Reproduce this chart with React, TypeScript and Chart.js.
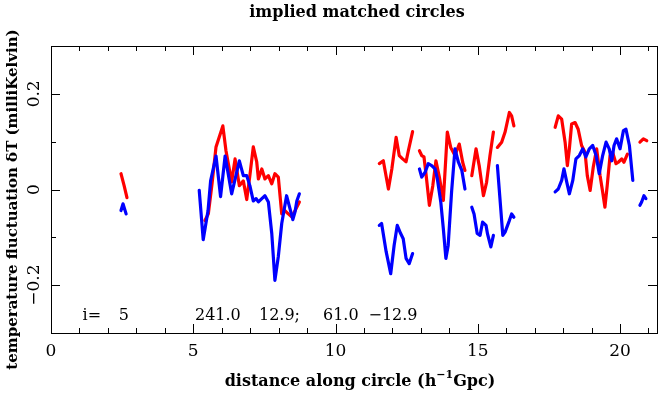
import React, { useEffect, useRef } from "react";
import { Chart, registerables } from "chart.js";

Chart.register(...registerables);

// ---- text ----
const chartTitle = "implied matched circles";
const xTitleParts = ["distance along circle (h", "\u22121", "Gpc)"];
const yTitle = "temperature fluctuation \u03b4T (milliKelvin)";
const xTickValues = [0, 5, 10, 15, 20];
const yTickValues = [-0.2, 0, 0.2];
const xMinorStep = 1;
const yMinorStep = 0.1;
const annotationTexts = ["i=", "5", "241.0", "12.9;", "61.0", "\u221212.9"];
const annotationX = [1.11, 2.38, 5.06, 7.31, 9.56, 11.16];
const annotationY = -0.265;

// ---- data: [distance, dT] ----
const redA = [[2.46, 0.033], [2.57, 0.008], [2.67, -0.017]];
const blueA = [[2.46, -0.044], [2.53, -0.030], [2.64, -0.051]];

const redB = [
  [5.41, -0.065], [5.53, -0.051], [5.66, 0.012], [5.8, 0.089], [6.04, 0.133],
  [6.15, 0.081], [6.35, 0.016], [6.47, 0.064], [6.62, 0.008], [6.76, 0.018],
  [6.88, -0.021], [6.99, 0.029], [7.11, 0.089], [7.23, 0.058], [7.29, 0.022],
  [7.41, 0.043], [7.52, 0.022], [7.64, 0.029], [7.76, 0.012], [7.87, 0.033],
  [7.99, 0.026], [8.11, -0.051], [8.22, -0.044], [8.34, -0.051], [8.46, -0.057],
  [8.58, -0.044], [8.73, -0.026],
];
const blueB = [
  [5.21, -0.002], [5.35, -0.105], [5.52, -0.044], [5.61, 0.018], [5.8, 0.07],
  [5.96, -0.015], [6.12, 0.07], [6.35, -0.009], [6.62, 0.06], [6.76, 0.029],
  [6.88, 0.029], [6.99, 0.008], [7.11, -0.024], [7.21, -0.019], [7.29, -0.026],
  [7.41, -0.019], [7.52, -0.013], [7.64, -0.026], [7.76, -0.092], [7.87, -0.19],
  [7.99, -0.14], [8.11, -0.071], [8.28, -0.013], [8.4, -0.04], [8.5, -0.063],
  [8.58, -0.046], [8.64, -0.024], [8.73, -0.009],
];

const redC = [
  [11.54, 0.054], [11.68, 0.06], [11.86, 0.001], [11.98, 0.043], [12.13, 0.109],
  [12.24, 0.071], [12.36, 0.064], [12.48, 0.058], [12.56, 0.081], [12.71, 0.121],
];
const blueC = [
  [11.54, -0.075], [11.62, -0.071], [11.78, -0.13], [11.94, -0.176], [12.06, -0.117],
  [12.17, -0.075], [12.29, -0.092], [12.38, -0.103], [12.48, -0.144], [12.59, -0.155],
  [12.71, -0.134],
];

const redD = [
  [12.95, 0.081], [13.03, 0.071], [13.11, 0.068], [13.18, 0.033], [13.3, -0.033],
  [13.42, 0.008], [13.53, 0.06], [13.65, 0.026], [13.79, -0.023], [13.93, 0.12],
  [14.05, 0.088], [14.2, 0.071], [14.35, 0.095], [14.47, 0.057], [14.55, 0.04],
];
const blueD = [
  [12.95, 0.043], [13.03, 0.026], [13.15, 0.036], [13.26, 0.054], [13.38, 0.05],
  [13.5, 0.043], [13.58, 0.022], [13.7, -0.026], [13.79, -0.082], [13.88, -0.144],
  [13.96, -0.117], [14.08, -0.005], [14.2, 0.085], [14.32, 0.057], [14.44, 0.04],
  [14.55, 0.001],
];

const redE1 = [
  [14.79, 0.029], [14.94, 0.085], [15.05, 0.05], [15.2, -0.013], [15.31, 0.015],
  [15.43, 0.071], [15.55, 0.12],
];
const blueE1 = [
  [14.79, -0.037], [14.87, -0.051], [14.98, -0.092], [15.08, -0.096], [15.17, -0.068],
  [15.29, -0.075], [15.34, -0.092], [15.46, -0.12], [15.55, -0.096],
];
const redE2 = [
  [15.69, 0.088], [15.84, 0.099], [15.96, 0.12], [16.11, 0.161], [16.19, 0.154],
  [16.27, 0.133],
];
const blueE2 = [
  [15.69, 0.05], [15.78, -0.019], [15.88, -0.096], [15.96, -0.089], [16.11, -0.065],
  [16.19, -0.051], [16.27, -0.058],
];

const redF1 = [
  [17.72, 0.13], [17.83, 0.154], [17.95, 0.147], [18.07, 0.099], [18.15, 0.05],
  [18.22, 0.085], [18.3, 0.137], [18.42, 0.14], [18.53, 0.126], [18.65, 0.092],
  [18.77, 0.078], [18.85, 0.029], [18.95, -0.002], [19.06, 0.047], [19.18, 0.085],
  [19.3, 0.029], [19.39, -0.005], [19.47, -0.037], [19.55, 0.008], [19.65, 0.071],
  [19.74, 0.078], [19.86, 0.054], [19.94, 0.057], [20.06, 0.064], [20.14, 0.057],
  [20.26, 0.074],
];
const blueF1 = [
  [17.72, -0.005], [17.83, 0.001], [17.95, 0.019], [18.03, 0.043], [18.13, 0.015],
  [18.22, -0.009], [18.34, 0.019], [18.45, 0.064], [18.57, 0.071], [18.69, 0.085],
  [18.8, 0.068], [18.92, 0.085], [19.04, 0.092], [19.16, 0.071], [19.27, 0.033],
  [19.39, 0.071], [19.51, 0.099], [19.62, 0.085], [19.71, 0.06], [19.79, 0.092],
  [19.88, 0.106], [20.0, 0.085], [20.12, 0.123], [20.21, 0.126], [20.33, 0.092],
  [20.45, 0.019],
];
const redF2 = [[20.7, 0.099], [20.82, 0.106], [20.94, 0.102]];
const blueF2 = [[20.7, -0.033], [20.76, -0.026], [20.84, -0.013], [20.91, -0.019]];

const redSegments = [redA, redB, redC, redD, redE1, redE2, redF1, redF2];
const blueSegments = [blueA, blueB, blueC, blueD, blueE1, blueE2, blueF1, blueF2];

function joinSegments(segs: number[][][]) {
  const out: { x: number; y: number | null }[] = [];
  segs.forEach((seg, i) => {
    if (i > 0) out.push({ x: seg[0][0], y: null });
    seg.forEach((p) => out.push({ x: p[0], y: p[1] }));
  });
  return out;
}

const SERIF = "'DejaVu Serif', 'Liberation Serif', serif";

function fmtY(v: number) {
  if (Math.abs(v) < 1e-9) return "0";
  const s = Math.abs(v).toFixed(1);
  return v < 0 ? "\u2212" + s : s;
}

const framePlugin = {
  id: "framePlugin",
  afterDraw(chart: any) {
    const ctx: CanvasRenderingContext2D = chart.ctx;
    const a = chart.chartArea;
    const xs = chart.scales.x;
    const ys = chart.scales.y;
    ctx.save();
    ctx.strokeStyle = "#000";
    ctx.fillStyle = "#000";
    ctx.lineWidth = 1;
    ctx.strokeRect(Math.round(a.left) + 0.5, Math.round(a.top) + 0.5, Math.round(a.right - a.left), Math.round(a.bottom - a.top));

    const major = 9;
    const minor = 5;
    ctx.beginPath();
    for (let v = xs.min; v <= xs.max + 1e-9; v += xMinorStep) {
      const vv = Math.round(v);
      const px = Math.round(xs.getPixelForValue(vv)) + 0.5;
      const len = vv % 5 === 0 ? major : minor;
      ctx.moveTo(px, a.bottom);
      ctx.lineTo(px, a.bottom - len);
      ctx.moveTo(px, a.top);
      ctx.lineTo(px, a.top + len);
    }
    for (let k = -3; k <= 3; k++) {
      const v = k * yMinorStep;
      const py = Math.round(ys.getPixelForValue(v)) + 0.5;
      const len = k % 2 === 0 ? major : minor;
      ctx.moveTo(a.left, py);
      ctx.lineTo(a.left + len, py);
      ctx.moveTo(a.right, py);
      ctx.lineTo(a.right - len, py);
    }
    ctx.stroke();

    ctx.font = `17px ${SERIF}`;
    ctx.textAlign = "center";
    ctx.textBaseline = "middle";
    xTickValues.forEach((v) => {
      ctx.fillText(String(v), xs.getPixelForValue(v), a.bottom + 19);
    });
    yTickValues.forEach((v) => {
      ctx.save();
      ctx.translate(a.left - 16, ys.getPixelForValue(v));
      ctx.rotate(-Math.PI / 2);
      ctx.fillText(fmtY(v), 0, 0);
      ctx.restore();
    });

    ctx.font = `bold 16px ${SERIF}`;
    ctx.fillText(chartTitle, (a.left + a.right) / 2 + 3, 13);

    const bigFont = `bold 16px ${SERIF}`;
    const smallFont = `bold 11px ${SERIF}`;
    ctx.font = bigFont;
    const w1 = ctx.measureText(xTitleParts[0]).width;
    const w3 = ctx.measureText(xTitleParts[2]).width;
    ctx.font = smallFont;
    const w2 = ctx.measureText(xTitleParts[1]).width;
    const total = w1 + w2 + w3;
    let sx = (a.left + a.right) / 2 + 6 - total / 2;
    const ty = 382;
    ctx.textAlign = "left";
    ctx.font = bigFont;
    ctx.fillText(xTitleParts[0], sx, ty);
    sx += w1;
    ctx.font = smallFont;
    ctx.fillText(xTitleParts[1], sx, ty - 7);
    sx += w2;
    ctx.font = bigFont;
    ctx.fillText(xTitleParts[2], sx, ty);

    ctx.save();
    ctx.translate(13, (a.top + a.bottom) / 2 + 10);
    ctx.rotate(-Math.PI / 2);
    ctx.textAlign = "center";
    ctx.font = `bold 15px ${SERIF}`;
    ctx.fillText(yTitle, 0, 0);
    ctx.restore();

    ctx.font = `16px ${SERIF}`;
    ctx.textAlign = "left";
    const ay = ys.getPixelForValue(annotationY);
    annotationTexts.forEach((t, i) => {
      ctx.fillText(t, xs.getPixelForValue(annotationX[i]), ay);
    });
    ctx.restore();
  },
};

export default function App() {
  const ref = useRef<HTMLCanvasElement | null>(null);
  useEffect(() => {
    if (!ref.current) return;
    const chart = new Chart(ref.current, {
      type: "line",
      data: {
        datasets: [
          {
            label: "blue",
            data: joinSegments(blueSegments),
            borderColor: "#0000ff",
            borderWidth: 3.2,
            pointRadius: 0,
            spanGaps: false,
            tension: 0,
            borderJoinStyle: "round",
            borderCapStyle: "round",
            fill: false,
          },
          {
            label: "red",
            data: joinSegments(redSegments),
            borderColor: "#ff0000",
            borderWidth: 3.2,
            pointRadius: 0,
            spanGaps: false,
            tension: 0,
            borderJoinStyle: "round",
            borderCapStyle: "round",
            fill: false,
          },
        ],
      },
      options: {
        responsive: false,
        animation: false,
        devicePixelRatio: 1,
        parsing: { xAxisKey: "x", yAxisKey: "y" },
        layout: { padding: { left: 51, top: 46, right: 8, bottom: 61 } },
        plugins: { legend: { display: false }, tooltip: { enabled: false }, title: { display: false } },
        scales: {
          x: { type: "linear", min: 0, max: 21.3, display: false },
          y: { type: "linear", min: -0.3, max: 0.3, display: false },
        },
      },
      plugins: [framePlugin],
    });
    return () => chart.destroy();
  }, []);
  return (
    <div style={{ position: "absolute", left: 0, top: 0, width: 665, height: 394, background: "#fff" }}>
      <canvas ref={ref} width={665} height={394} style={{ display: "block" }} />
    </div>
  );
}
